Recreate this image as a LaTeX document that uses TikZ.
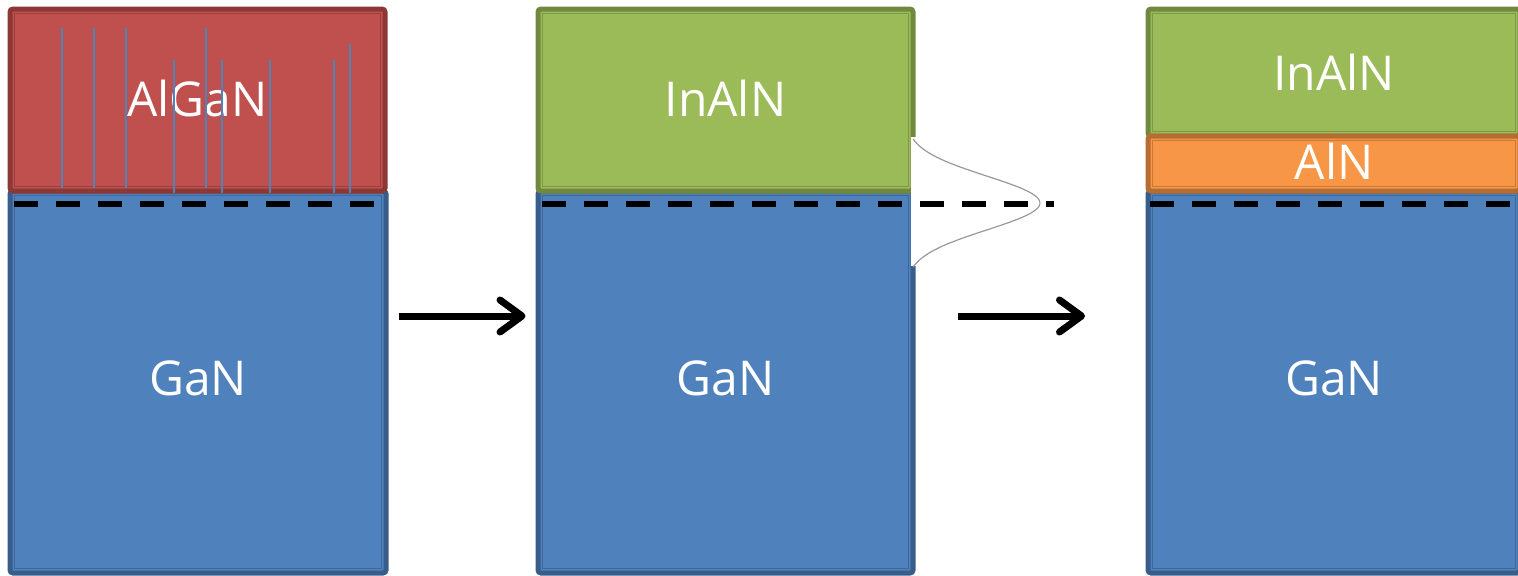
\documentclass[tikz,border=0pt]{standalone}
\usepackage{fontspec}
\setmainfont{Open Sans}
\usetikzlibrary{arrows.meta,fit}
\definecolor{redfill}{HTML}{C0504D}
\definecolor{redline}{HTML}{8C3836}
\definecolor{bluefill}{HTML}{4F81BD}
\definecolor{blueline}{HTML}{385D8A}
\definecolor{greenfill}{HTML}{9BBB59}
\definecolor{greenline}{HTML}{71893F}
\definecolor{orangefill}{HTML}{F79646}
\definecolor{orangeline}{HTML}{B66D31}
\begin{document}
\begin{tikzpicture}[x=0.5pt, y=-0.5pt,
    layer/.style 2 args={draw=#2, fill=#1, line width=2.5pt, rounded corners=1.5pt,
      inner sep=0pt},
    layertext/.style={text=white, inner sep=0pt, font=\fontsize{24}{28}\selectfont},
    frame/.style 2 args={draw=#2!70!#1, line width=0.8pt},
    interface/.style={line width=3pt, dash pattern=on 12pt off 9pt},
    flow/.style={line width=3.5pt, -{Straight Barb[length=11pt, width=16pt, round]}},
    disloc/.style={draw=bluefill, line width=0.7pt}]
  \useasboundingbox (0,0) rectangle (1518,575);
  % panel 1: AlGaN on GaN
  \node[layer={bluefill}{blueline}, fit={(10,191) (386,573)},
    label={[layertext, yshift=2pt]center:GaN}] (gan1) {};
  \node[layer={redfill}{redline}, fit={(10,9) (385,191)},
    label={[layertext, yshift=1pt]center:AlGaN}] (algan) {};
  % panel 2: InAlN on GaN
  \node[layer={bluefill}{blueline}, fit={(538,191) (913,573)},
    label={[layertext, yshift=2pt]center:GaN}] (gan2) {};
  \node[layer={greenfill}{greenline}, fit={(538,9) (913,191)},
    label={[layertext, yshift=1pt]center:InAlN}] (inaln2) {};
  % panel 3: InAlN / AlN / GaN
  \node[layer={bluefill}{blueline}, fit={(1148,191) (1520,573)},
    label={[layertext, yshift=2pt]center:GaN}] (gan3) {};
  \node[layer={greenfill}{greenline}, fit={(1148,9) (1520,136)},
    label={[layertext]center:InAlN}] (inaln3) {};
  \node[layer={orangefill}{orangeline}, fit={(1148,136) (1520,191)},
    label={[layertext, yshift=1pt]center:AlN}] (aln) {};
  % inner frames
  \foreach \n/\f/\c in {gan1/bluefill/blueline, algan/redfill/redline,
      gan2/bluefill/blueline, inaln2/greenfill/greenline,
      gan3/bluefill/blueline, inaln3/greenfill/greenline, aln/orangefill/orangeline}
    \draw[frame={\f}{\c}] ([xshift=3.5pt,yshift=-3.5pt]\n.north west)
      rectangle ([xshift=-3.5pt,yshift=3.5pt]\n.south east);
  % dislocations in the AlGaN
  \foreach \x/\t/\b in {62/28/188, 94/28/188, 126/28/188, 174/60/193, 206/28/188,
      222/60/193, 270/60/193, 334/60/193, 350/44/193}
    \draw[disloc] (\x,\t) -- (\x,\b);
  % electron distribution
  \fill[white] (911,137) rectangle (918,266);
  \draw[gray!80, line width=0.6pt] plot[domain=-64:64, samples=60, smooth]
    ({912+134.7*(exp(-(\x/38)^2)-0.05)}, {203+\x});
  % 2DEG planes
  \draw[interface] (14,204) -- (374,204);
  \draw[interface] (542,204) -- (1054,204);
  \draw[interface] (1150,204) -- (1530,204);
  % steps
  \coordinate (arrA) at (0,316);
  \coordinate (arrB1) at (958,316);
  \coordinate (arrB2) at (1085,316);
  \draw[flow] ([xshift=5pt]gan1.east |- arrA) -- ([xshift=-5pt]gan2.west |- arrA);
  \draw[flow] (arrB1) -- (arrB2);
\end{tikzpicture}
\end{document}
